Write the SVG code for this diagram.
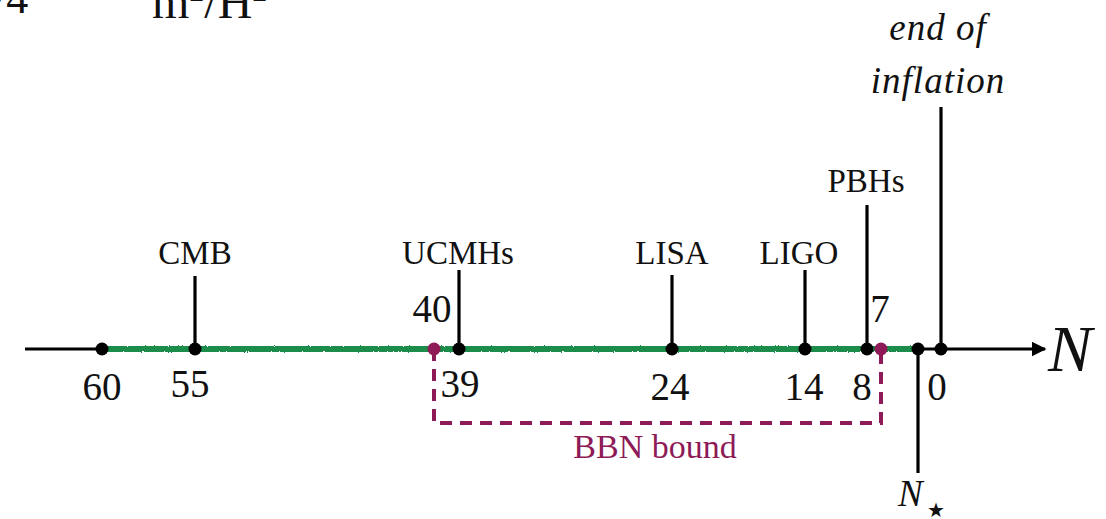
<svg xmlns="http://www.w3.org/2000/svg" width="1106" height="519" viewBox="0 0 1106 519">
  <style>
    text { font-family: "Liberation Serif", "DejaVu Serif", serif; fill: #111; }
    .lbl { font-size: 33px; text-anchor: middle; }
    .num { font-size: 39px; text-anchor: middle; }
    .it { font-style: italic; }
    .itl { font-size: 37px; font-style: italic; text-anchor: middle; letter-spacing: 1px; }
    .tick { stroke: #000; stroke-width: 3.2; fill: none; }
    .dot { fill: #000; }
    .mdot { fill: #8e1b57; }
    .bbn { stroke: #8e1b57; stroke-width: 4; fill: none; stroke-dasharray: 12 8; }
  </style>
  <defs>
    <marker id="arrow" viewBox="0 0 10 10" refX="9" refY="5" markerWidth="5" markerHeight="5" markerUnits="strokeWidth" orient="auto">
      <path d="M0,0 L10,5 L0,10 z" fill="#000"/>
    </marker>
    <filter id="rough" filterUnits="userSpaceOnUse" x="90" y="335" width="840" height="30">
      <feTurbulence type="fractalNoise" baseFrequency="0.7" numOctaves="2" seed="3"/>
      <feDisplacementMap in="SourceGraphic" scale="2.5" xChannelSelector="R" yChannelSelector="G"/>
    </filter>
  </defs>

  <g id="header">
    <text x="-6" y="13" font-size="44">/4</text>
    <text x="152" y="18" font-size="48">m<tspan dy="-17" font-size="30">2</tspan><tspan dy="17">/H</tspan><tspan dy="-17" font-size="30">2</tspan></text>
  </g>

  <g id="connectors">
    <line x1="25" y1="349" x2="1045" y2="349" stroke="#000" stroke-width="3" marker-end="url(#arrow)"/>
    <line x1="102" y1="349" x2="918" y2="349" stroke="#1f8c4c" stroke-width="6" filter="url(#rough)"/>
    <path class="bbn" d="M434,349 V423 H881 V349"/>
  </g>

  <g id="axis-label">
    <text x="1048" y="371" font-size="66" class="it">N</text>
  </g>

  <g id="n60"><circle class="dot" cx="102" cy="349" r="6.5"/><text class="num" x="102" y="400">60</text></g>
  <g id="cmb">
    <line class="tick" x1="195" y1="276" x2="195" y2="349"/>
    <circle class="dot" cx="195" cy="349" r="6.5"/>
    <text class="lbl" x="195" y="264">CMB</text>
    <text class="num" x="190" y="397">55</text>
  </g>
  <g id="ucmhs">
    <line class="tick" x1="459" y1="270" x2="459" y2="349"/>
    <circle class="dot" cx="459" cy="349" r="6.5"/>
    <text class="lbl" x="458" y="264">UCMHs</text>
    <text class="num" x="460" y="397">39</text>
  </g>
  <g id="bbn40"><circle class="mdot" cx="434" cy="349" r="6.5"/><text class="num" x="432" y="322">40</text></g>
  <g id="lisa">
    <line class="tick" x1="672" y1="275" x2="672" y2="349"/>
    <circle class="dot" cx="672" cy="349" r="6.5"/>
    <text class="lbl" x="672" y="264">LISA</text>
    <text class="num" x="670" y="400">24</text>
  </g>
  <g id="ligo">
    <line class="tick" x1="805" y1="270" x2="805" y2="349"/>
    <circle class="dot" cx="805" cy="349" r="6.5"/>
    <text class="lbl" x="799" y="264">LIGO</text>
    <text class="num" x="804" y="400">14</text>
  </g>
  <g id="pbhs">
    <line class="tick" x1="867" y1="205" x2="867" y2="349"/>
    <circle class="dot" cx="867" cy="349" r="6.5"/>
    <text class="lbl" x="866" y="192">PBHs</text>
    <text class="num" x="862" y="400">8</text>
  </g>
  <g id="bbn7"><circle class="mdot" cx="881" cy="349" r="6.5"/><text class="num" x="880" y="322">7</text></g>
  <g id="nstar">
    <line class="tick" x1="918" y1="349" x2="918" y2="473"/>
    <circle class="dot" cx="918" cy="349" r="6.5"/>
    <text x="898" y="506" font-size="37" class="it">N</text>
    <text x="927" y="517" font-size="20">★</text>
  </g>
  <g id="end-of-inflation">
    <line class="tick" x1="941" y1="107" x2="941" y2="349"/>
    <circle class="dot" cx="941" cy="349" r="6.5"/>
    <text class="itl" x="938" y="40">end of</text>
    <text class="itl" x="938" y="93">inflation</text>
    <text class="num" x="937" y="400">0</text>
  </g>
  <g id="bbn-bound">
    <text x="655" y="458" font-size="34" text-anchor="middle" style="fill:#8e1b57">BBN bound</text>
  </g>
</svg>
